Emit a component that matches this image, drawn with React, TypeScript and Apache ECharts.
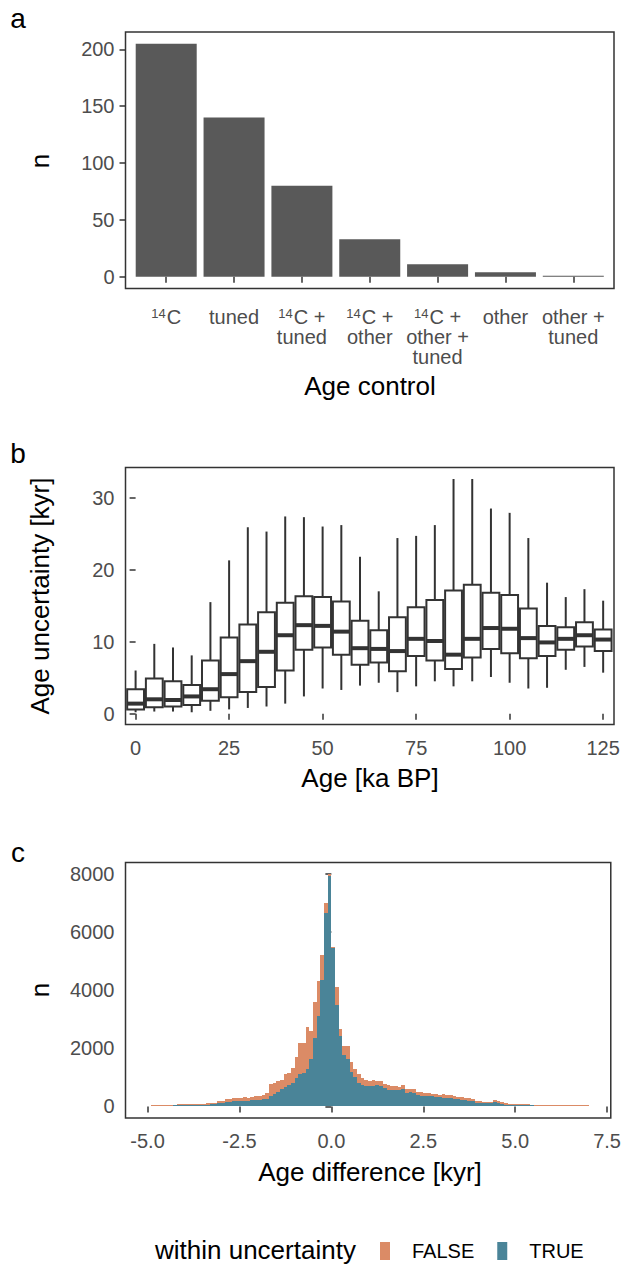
import React, { useEffect, useRef } from 'react';
import * as echarts from 'echarts';

const FONT = '"Liberation Sans", Arial, Helvetica, sans-serif';
const TICK_COLOR = '#4d4d4d';
const LINE_COLOR = '#333333';
const FALSE_COLOR = '#db8b66';
const TRUE_COLOR = '#4a8498';

// ---- Panel a: age control ----
const ageControlLabels = ['14C', 'tuned', '14C +\ntuned', '14C +\nother', '14C +\nother +\ntuned', 'other', 'other +\ntuned'];
const ageControlPositions = [1, 2, 3, 4, 5, 6, 7];
const ageControlCounts = [205, 140, 80, 33, 11, 4, 1];
const countTicks = [0, 50, 100, 150, 200];

// ---- Panel b: age uncertainty boxplots ----
const ageBinCenters = [0, 5, 10, 15, 20, 25, 30, 35, 40, 45, 50, 55, 60, 65, 70, 75, 80, 85, 90, 95, 100, 105, 110, 115, 120, 125];
const whiskerLow = [0.2, 0.3, 0.3, 0.2, 0.4, 0.6, 0.8, 1.0, 1.4, 2.4, 3.5, 3.3, 3.9, 4.3, 3.0, 3.8, 4.5, 3.8, 4.5, 5.1, 4.3, 3.5, 3.6, 6.1, 6.5, 5.7];
const quartile1 = [0.6, 0.9, 1.0, 1.2, 1.8, 2.3, 3.0, 3.7, 6.0, 8.9, 9.2, 8.2, 6.8, 7.1, 5.9, 8.0, 7.4, 6.2, 7.8, 9.0, 8.4, 7.7, 8.0, 8.9, 9.35, 8.7];
const medians = [1.4, 2.0, 1.9, 2.4, 3.4, 5.5, 7.3, 8.6, 10.9, 12.3, 12.2, 11.4, 9.1, 9.0, 8.7, 10.4, 10.1, 8.2, 10.4, 11.9, 11.8, 10.5, 9.9, 10.4, 10.9, 10.3];
const quartile3 = [3.4, 4.9, 4.5, 4.0, 7.4, 10.6, 12.4, 14.1, 15.4, 16.3, 16.2, 15.6, 12.9, 11.6, 13.4, 14.8, 15.8, 17.1, 17.9, 16.8, 16.5, 14.6, 12.2, 12.0, 12.7, 11.7];
const whiskerHigh = [6.0, 9.7, 9.2, 8.1, 15.5, 21.3, 25.9, 25.3, 27.4, 27.3, 26.0, 26.2, 21.8, 17.0, 24.4, 24.7, 26.2, 32.6, 32.6, 28.5, 27.9, 24.4, 18.2, 16.2, 17.3, 15.7];
const ageTicks = [0, 25, 50, 75, 100, 125];
const uncertaintyTicks = [0, 10, 20, 30];
const boxWidth = 4.5;

// ---- Panel c: histogram of age differences ----
const binStart = -5;
const binWidth = 0.1;
const withinTrue = [
  22, 24, 25, 26, 27, 28, 30, 33, 35, 38,
  40, 42, 44, 48, 45, 52, 60, 68, 80, 100,
  120, 145, 160, 170, 175, 185, 200, 190, 205, 215,
  220, 240, 270, 370, 420, 500, 600, 680, 740, 800,
  960, 1100, 1150, 1280, 1620, 2360, 3100, 4340, 6660, 7920,
  5450, 3490, 2410, 1750, 1620, 1170, 1000, 800, 740, 710,
  710, 700, 720, 690, 640, 580, 560, 570, 550, 600,
  470, 480, 470, 380, 370, 360, 350, 340, 320, 310,
  300, 290, 280, 270, 240, 220, 210, 200, 185, 130,
  125, 120, 110, 105, 150, 100, 90, 60, 50, 45,
  40, 38, 36, 34, 32, 30, 30, 28, 28, 27,
  26, 25, 24, 24, 22, 22, 20, 20, 18, 18,
];
const withinFalse = [
  8, 8, 10, 9, 11, 12, 15, 22, 30, 32,
  32, 33, 34, 47, 25, 33, 40, 42, 50, 70,
  80, 95, 100, 105, 110, 115, 110, 110, 115, 125,
  130, 160, 180, 390, 380, 380, 320, 420, 410, 530,
  720, 1090, 1040, 1450, 960, 1240, 1200, 870, 330, 60,
  20, 620, 260, 320, 450, 360, 280, 310, 220, 210,
  170, 190, 150, 170, 140, 140, 140, 140, 130, 140,
  130, 120, 120, 120, 110, 110, 100, 90, 90, 90,
  110, 100, 100, 100, 90, 90, 80, 80, 75, 50,
  45, 40, 40, 55, 70, 80, 60, 40, 40, 35,
  40, 32, 32, 31, 30, 32, 30, 32, 30, 31,
  29, 30, 26, 26, 23, 20, 20, 18, 18, 16,
];
const diffTicks = [-5, -2.5, 0, 2.5, 5, 7.5];
const histCountTicks = [0, 2000, 4000, 6000, 8000];

const GRID_LEFT = 125.5;
const GRID_WIDTH = 488.5;

function makeAxis(gridIndex: number, min: number, max: number, ticks: number[], formatter: any, extraLabel: any = {}) {
  return {
    type: 'value',
    gridIndex,
    min,
    max,
    axisLine: { show: false },
    splitLine: { show: false },
    axisTick: { show: true, customValues: ticks, length: 6, lineStyle: { color: LINE_COLOR, width: 1.5 } },
    axisLabel: {
      show: true,
      customValues: ticks,
      formatter,
      color: TICK_COLOR,
      fontSize: 20,
      fontFamily: FONT,
      margin: 11,
      ...extraLabel,
    },
  };
}

function textEl(text: string, x: number, y: number, size: number, rotate = false, align = 'center') {
  return {
    type: 'text',
    x,
    y,
    rotation: rotate ? Math.PI / 2 : 0,
    style: {
      text,
      fill: '#000000',
      font: `${size}px ${FONT}`,
      textAlign: align,
      textVerticalAlign: 'middle',
    },
  };
}

export default function App() {
  const ref = useRef<HTMLDivElement>(null);

  useEffect(() => {
    if (!ref.current) return;
    const chart = echarts.init(ref.current, undefined, { renderer: 'svg' });

    const boxData = ageBinCenters.map((a, i) => [a, whiskerLow[i], quartile1[i], medians[i], quartile3[i], whiskerHigh[i]]);
    const trueRects = withinTrue.map((v, k) => [binStart + k * binWidth, binStart + (k + 1) * binWidth, 0, v]);
    const falseRects = withinFalse.map((v, k) => [binStart + k * binWidth, binStart + (k + 1) * binWidth, withinTrue[k], withinTrue[k] + v]);
    const histMax = Math.max(...withinTrue.map((v, k) => v + withinFalse[k]));

    const histRender = (color: string) => (params: any, api: any) => {
      const p0 = api.coord([api.value(0), api.value(2)]);
      const p1 = api.coord([api.value(1), api.value(3)]);
      const x0 = Math.round(p0[0]);
      const x1 = Math.round(p1[0]);
      const yb = Math.round(p0[1]);
      const yt = Math.round(p1[1]);
      return {
        type: 'rect',
        shape: { x: x0, y: yt, width: x1 - x0, height: yb - yt },
        style: { fill: color },
      };
    };

    const option: any = {
      animation: false,
      backgroundColor: '#ffffff',
      textStyle: { fontFamily: FONT },
      grid: [
        { left: GRID_LEFT, top: 32, width: GRID_WIDTH, height: 256.5, show: true, borderColor: LINE_COLOR, borderWidth: 1.5, backgroundColor: 'transparent' },
        { left: GRID_LEFT, top: 467.5, width: GRID_WIDTH, height: 257, show: true, borderColor: LINE_COLOR, borderWidth: 1.5, backgroundColor: 'transparent' },
        { left: GRID_LEFT, top: 862.5, width: GRID_WIDTH, height: 255.5, show: true, borderColor: LINE_COLOR, borderWidth: 1.5, backgroundColor: 'transparent' },
      ],
      xAxis: [
        makeAxis(0, 0.4, 7.6, ageControlPositions, (v: number) => {
          const i = ageControlPositions.indexOf(Math.round(v));
          const s = i >= 0 ? ageControlLabels[i] : '';
          return s.replace(/^14C/, '{sup|14}C');
        }, {
          lineHeight: 20,
          margin: 18,
          rich: {
            sup: { fontSize: 13, lineHeight: 8, verticalAlign: 'top', color: TICK_COLOR, fontFamily: FONT, padding: [0, 1, 0, 0] },
          },
        }),
        makeAxis(1, -2.7, 127.9, ageTicks, (v: number) => String(v), { margin: 13 }),
        makeAxis(2, -5.6, 7.6, diffTicks, (v: number) => v.toFixed(1), { margin: 13 }),
      ],
      yAxis: [
        makeAxis(0, -10.25, 215.25, countTicks, (v: number) => String(v)),
        makeAxis(1, -1.5, 34.2, uncertaintyTicks, (v: number) => String(v)),
        makeAxis(2, -histMax * 0.05, histMax * 1.05, histCountTicks, (v: number) => String(v)),
      ],
      legend: {
        data: ['FALSE', 'TRUE'],
        left: 380,
        top: 1241,
        padding: 0,
        orient: 'horizontal',
        icon: 'rect',
        itemWidth: 10,
        itemHeight: 18,
        itemGap: 23,
        selectedMode: false,
        textStyle: { fontSize: 20, color: '#000000', fontFamily: FONT, padding: [0, 0, 0, 17] },
      },
      series: [
        {
          name: 'n',
          type: 'bar',
          xAxisIndex: 0,
          yAxisIndex: 0,
          barWidth: 61,
          data: ageControlPositions.map((p, i) => [p, ageControlCounts[i]]),
          itemStyle: { color: '#595959' },
          silent: true,
        },
        {
          name: 'Age uncertainty',
          type: 'custom',
          xAxisIndex: 1,
          yAxisIndex: 1,
          data: boxData,
          encode: { x: 0, y: [1, 2, 3, 4, 5] },
          silent: true,
          renderItem: (params: any, api: any) => {
            const x = api.value(0);
            const lo = api.coord([x, api.value(1)]);
            const q1 = api.coord([x, api.value(2)]);
            const md = api.coord([x, api.value(3)]);
            const q3 = api.coord([x, api.value(4)]);
            const hi = api.coord([x, api.value(5)]);
            const half = api.size([boxWidth, 0])[0] / 2;
            const cx = q1[0];
            const st = { stroke: LINE_COLOR, lineWidth: 2, fill: null };
            return {
              type: 'group',
              children: [
                { type: 'line', shape: { x1: cx, y1: q3[1], x2: cx, y2: hi[1] }, style: st },
                { type: 'line', shape: { x1: cx, y1: q1[1], x2: cx, y2: lo[1] }, style: st },
                { type: 'rect', shape: { x: cx - half, y: q3[1], width: half * 2, height: q1[1] - q3[1] }, style: { stroke: LINE_COLOR, lineWidth: 2, fill: '#ffffff' } },
                { type: 'line', shape: { x1: cx - half, y1: md[1], x2: cx + half, y2: md[1] }, style: { stroke: LINE_COLOR, lineWidth: 4 } },
              ],
            };
          },
        },
        {
          name: 'TRUE',
          type: 'custom',
          xAxisIndex: 2,
          yAxisIndex: 2,
          data: trueRects,
          encode: { x: [0, 1], y: [2, 3] },
          itemStyle: { color: TRUE_COLOR },
          silent: true,
          renderItem: histRender(TRUE_COLOR),
        },
        {
          name: 'FALSE',
          type: 'custom',
          xAxisIndex: 2,
          yAxisIndex: 2,
          data: falseRects,
          encode: { x: [0, 1], y: [2, 3] },
          itemStyle: { color: FALSE_COLOR },
          silent: true,
          renderItem: histRender(FALSE_COLOR),
        },
      ],
      graphic: [
        textEl('a', 18, 18, 28),
        textEl('b', 18, 453, 28),
        textEl('c', 18, 852, 28),
        textEl('n', 40, 161, 26, true),
        textEl('Age control', 370, 386, 26),
        textEl('Age uncertainty [kyr]', 40, 596, 26, true),
        textEl('Age [ka BP]', 370, 778, 26),
        textEl('n', 40, 990, 26, true),
        textEl('Age difference [kyr]', 370, 1172, 26),
        textEl('within uncertainty', 155, 1250, 26, false, 'left'),
      ],
    };

    chart.setOption(option);
    return () => chart.dispose();
  }, []);

  return (
    <div
      ref={ref}
      style={{ position: 'absolute', left: 0, top: 0, width: 624, height: 1264, background: '#ffffff' }}
    />
  );
}
